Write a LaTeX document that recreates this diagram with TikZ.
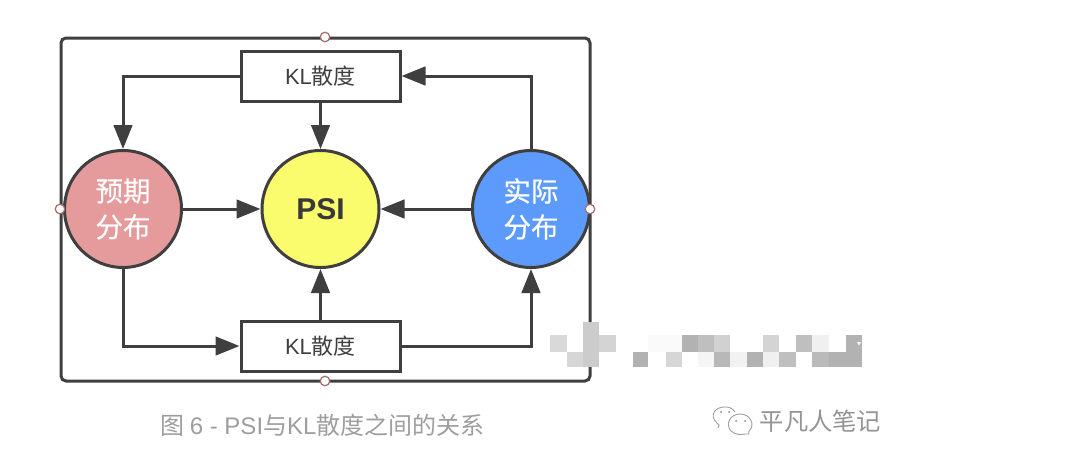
\documentclass[tikz,border=0pt]{standalone}
\usepackage{fontspec}
\setmainfont{Noto Sans CJK SC}
\newfontfamily\lat{Liberation Sans}
\newfontfamily\medcjk[FakeBold=0.5]{Noto Sans CJK SC}
\usetikzlibrary{arrows.meta}
\definecolor{ink}{HTML}{3F3F3F}
\definecolor{handle}{HTML}{A86A6A}
\definecolor{capgray}{HTML}{9E9E9E}
\definecolor{rosefill}{HTML}{E59A9C}
\definecolor{sunfill}{HTML}{FBFB6E}
\definecolor{bluefill}{HTML}{5C9BFB}
\tikzset{
  round/.style={circle,draw=ink,line width=3pt,minimum size=117pt,inner sep=0pt,outer sep=1.5pt,align=center},
  klbox/.style={rectangle,draw=ink,line width=3pt,minimum width=159pt,minimum height=50pt,inner sep=0pt,outer sep=1.5pt,font=\fontsize{22pt}{26pt}\selectfont,text=ink},
  conn/.style={draw=ink,line width=3pt,-{Triangle[length=24pt,width=18.5pt,fill=ink]}},
  knob/.style={circle,draw=handle,fill=white,line width=1.2pt,minimum size=9.5pt,inner sep=0pt,outer sep=0pt},
  duo/.style={font=\fontsize{27.5pt}{36pt}\selectfont\medcjk,text=white},
}
\newcommand{\blk}[5]{\fill[black!#5] (#1,#2) rectangle (#3,#4);}
\begin{document}
\begin{tikzpicture}[x=1pt,y=-1pt]
\useasboundingbox (0,0) rectangle (1076,466);
\fill[white] (0,0) rectangle (1076,466);
% frame
\draw[ink,line width=3pt,rounded corners=5pt] (61,38) rectangle (590,381);
% pixelated region
\blk{550}{335}{567}{352}{15}
\blk{583}{322}{599}{367}{20}
\blk{599}{335}{616}{352}{17}
\blk{567}{352}{583}{367}{16}
\blk{633}{352}{648}{367}{30}
\blk{666}{352}{682}{367}{16}
\blk{648}{335}{682}{352}{2}
\blk{682}{335}{698}{352}{30}
\blk{698}{335}{714}{352}{25}
\blk{714}{335}{730}{352}{18}
\blk{698}{352}{714}{367}{4}
\blk{714}{352}{730}{367}{28}
\blk{730}{352}{747}{367}{5}
\blk{747}{352}{763}{367}{30}
\blk{763}{352}{779}{367}{6}
\blk{763}{335}{779}{352}{17}
\blk{779}{352}{796}{367}{25}
\blk{796}{335}{812}{352}{25}
\blk{812}{335}{829}{352}{6}
\blk{812}{352}{829}{367}{27}
\blk{829}{352}{846}{367}{30}
\blk{846}{335}{862}{367}{30}
\fill[white] (857,342) -- (861,342) -- (859,345.5) -- cycle;
% nodes
\node[round,fill=rosefill,duo] (pre) at (123,209) {预期\\分布};
\node[round,fill=sunfill,font=\fontsize{30pt}{34pt}\selectfont\lat\bfseries,text=ink!90!black] (psi) at (320.5,209) {PSI};
\node[round,fill=bluefill,duo] (act) at (531,209) {实际\\分布};
\node[klbox] (top) at (320.5,76) {{\lat KL}散度};
\node[klbox] (bot) at (320.5,346) {{\lat KL}散度};
% connectors
\draw[conn] (top.west) -| (pre.north);
\draw[conn] (top.south) -- (psi.north);
\draw[conn] (act.north) |- (top.east);
\draw[conn] (pre.east) -- (psi.west);
\draw[conn] (act.west) -- (psi.east);
\draw[conn] (pre.south) |- (bot.west);
\draw[conn] (bot.north) -- (psi.south);
\draw[conn] (bot.east) -| (act.south);
% handles
\node[knob] (k1) at (325,37) {};
\node[knob] (k2) at (60,209) {};
\node[knob] (k3) at (590,209) {};
\node[knob] (k4) at (325,381) {};
% caption
\node[text=capgray,font=\fontsize{24pt}{28pt}\selectfont,anchor=center] (cap) at (322.5,425) {图 {\lat 6 - PSI}与{\lat KL}散度之间的关系};
% watermark
\node[text=black!42,font=\fontsize{24.3pt}{28pt}\selectfont,anchor=center] (wm) at (820.5,421) {平凡人笔记};
\draw[black!38,line width=.9pt] (718,428) .. controls (720,426) and (719,424) .. (717,423) .. controls (708,415) and (716,406) .. (726,407) .. controls (730,407) and (733,409) .. (735,412);
\draw[black!38,line width=.9pt,fill=white] (749,434) .. controls (748,432) and (749,431) .. (750,430) .. controls (755,424) and (750,414) .. (740,414) .. controls (730,414) and (725,424) .. (731,431) .. controls (735,435) and (742,435) .. (745,434) -- cycle;
\fill[black!45] (721,412) circle (1pt) (729,412) circle (1pt) (736,421) circle (1pt) (745,421) circle (1pt);
\end{tikzpicture}
\end{document}
